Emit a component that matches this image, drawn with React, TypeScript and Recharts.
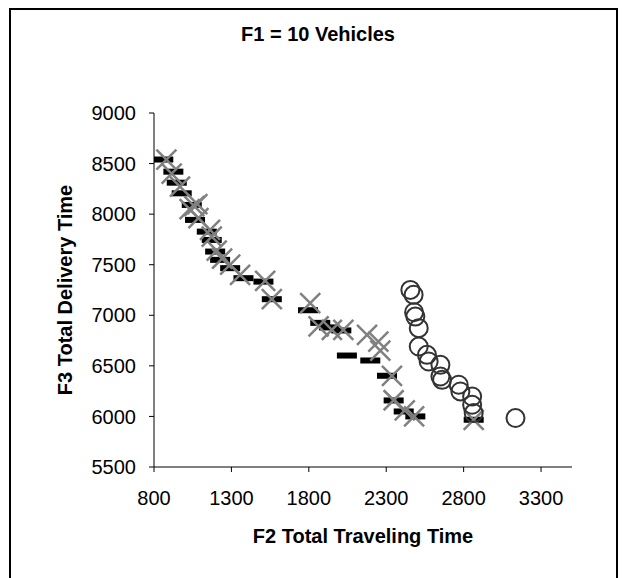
import { ScatterChart, Scatter, XAxis, YAxis } from "recharts";

// black dash markers
const dashSeries = [
  { x: 860, y: 8540 }, { x: 925, y: 8420 }, { x: 947, y: 8311 }, { x: 979, y: 8206 },
  { x: 1044, y: 8091 }, { x: 1065, y: 7943 }, { x: 1141, y: 7827 }, { x: 1173, y: 7745 },
  { x: 1195, y: 7630 }, { x: 1227, y: 7548 }, { x: 1292, y: 7466 }, { x: 1378, y: 7367 },
  { x: 1507, y: 7333 }, { x: 1561, y: 7159 }, { x: 1795, y: 7050 }, { x: 1874, y: 6925 },
  { x: 1930, y: 6880 }, { x: 2010, y: 6850 }, { x: 2046, y: 6602 }, { x: 2197, y: 6553 },
  { x: 2305, y: 6402 }, { x: 2348, y: 6158 }, { x: 2413, y: 6049 }, { x: 2488, y: 6000 },
  { x: 2865, y: 5967 },
];

// grey cross markers
const crossSeries = [
  { x: 880, y: 8540 }, { x: 914, y: 8400 }, { x: 968, y: 8272 }, { x: 1030, y: 8050 },
  { x: 1060, y: 8080 }, { x: 1080, y: 8100 }, { x: 1087, y: 7960 }, { x: 1162, y: 7844 },
  { x: 1173, y: 7778 }, { x: 1205, y: 7640 }, { x: 1240, y: 7560 }, { x: 1292, y: 7500 },
  { x: 1356, y: 7400 }, { x: 1518, y: 7340 }, { x: 1561, y: 7160 }, { x: 1809, y: 7120 },
  { x: 1863, y: 6890 }, { x: 1949, y: 6856 }, { x: 2023, y: 6856 }, { x: 2176, y: 6807 },
  { x: 2249, y: 6740 }, { x: 2262, y: 6650 }, { x: 2337, y: 6400 }, { x: 2348, y: 6160 },
  { x: 2420, y: 6060 }, { x: 2480, y: 6000 }, { x: 2865, y: 5967 },
];

// open circle markers
const circleSeries = [
  { x: 2456, y: 7251 }, { x: 2477, y: 7202 }, { x: 2480, y: 7030 }, { x: 2488, y: 6987 },
  { x: 2510, y: 6873 }, { x: 2510, y: 6691 }, { x: 2563, y: 6609 }, { x: 2574, y: 6543 },
  { x: 2650, y: 6510 }, { x: 2650, y: 6395 }, { x: 2661, y: 6362 }, { x: 2768, y: 6313 },
  { x: 2779, y: 6247 }, { x: 2855, y: 6197 }, { x: 2855, y: 6115 }, { x: 2865, y: 6033 },
  { x: 3135, y: 5984 },
];

const xTicks = [800, 1300, 1800, 2300, 2800, 3300];
const yTicks = [5500, 6000, 6500, 7000, 7500, 8000, 8500, 9000];

const font = "'Liberation Sans', Arial, sans-serif";
const fs = 20;

const Dash = (p: any) => <rect x={p.cx - 10} y={p.cy - 3} width={20} height={6} fill="#000" />;

const Cross = (p: any) => {
  const s = 10;
  const { cx, cy } = p;
  return (
    <path
      d={`M${cx - s},${cy - s}L${cx + s},${cy + s}M${cx - s},${cy + s}L${cx + s},${cy - s}`}
      stroke="#808080"
      strokeWidth={2.5}
      fill="none"
    />
  );
};

const Ring = (p: any) => <circle cx={p.cx} cy={p.cy} r={9} fill="none" stroke="#333" strokeWidth={2} />;

export default function App() {
  return (
    <div style={{ position: "relative", width: 612, height: 570, fontFamily: font }}>
      <div
        style={{
          position: "absolute", left: 1, top: 0, width: 609, height: 572,
          borderLeft: "2px solid #000", borderTop: "2px solid #000", borderRight: "2px solid #000",
          boxSizing: "border-box",
        }}
      />
      <div
        style={{
          position: "absolute", left: 4, top: 15, width: 612, textAlign: "center",
          fontWeight: "bold", fontSize: fs, color: "#000",
        }}
      >
        F1 = 10 Vehicles
      </div>
      <div style={{ position: "absolute", left: 0, top: 0 }}>
        <ScatterChart width={612} height={570} margin={{ top: 105, right: 48, bottom: 51, left: 40 }}>
          <XAxis
            type="number"
            dataKey="x"
            domain={[800, 3500]}
            ticks={xTicks}
            allowDataOverflow
            stroke="#000"
            tickSize={5}
            tickMargin={19}
            height={60}
            tick={{ fill: "#000", fontSize: fs, fontFamily: font }}
            label={{
              value: "F2 Total Traveling Time",
              position: "bottom",
              offset: 2,
              style: { fill: "#000", fontSize: fs, fontWeight: "bold", fontFamily: font },
            }}
          />
          <YAxis
            type="number"
            dataKey="y"
            domain={[5500, 9000]}
            ticks={yTicks}
            allowDataOverflow
            stroke="#000"
            tickSize={5}
            tickMargin={13}
            width={106}
            tick={{ fill: "#000", fontSize: fs, fontFamily: font }}
            label={{
              value: "F3 Total Delivery Time",
              angle: -90,
              position: "insideLeft",
              offset: 17,
              style: { fill: "#000", fontSize: fs, fontWeight: "bold", fontFamily: font, textAnchor: "middle" },
            }}
          />
          <Scatter data={dashSeries} shape={Dash} isAnimationActive={false} />
          <Scatter data={crossSeries} shape={Cross} isAnimationActive={false} />
          <Scatter data={circleSeries} shape={Ring} isAnimationActive={false} />
        </ScatterChart>
      </div>
    </div>
  );
}
